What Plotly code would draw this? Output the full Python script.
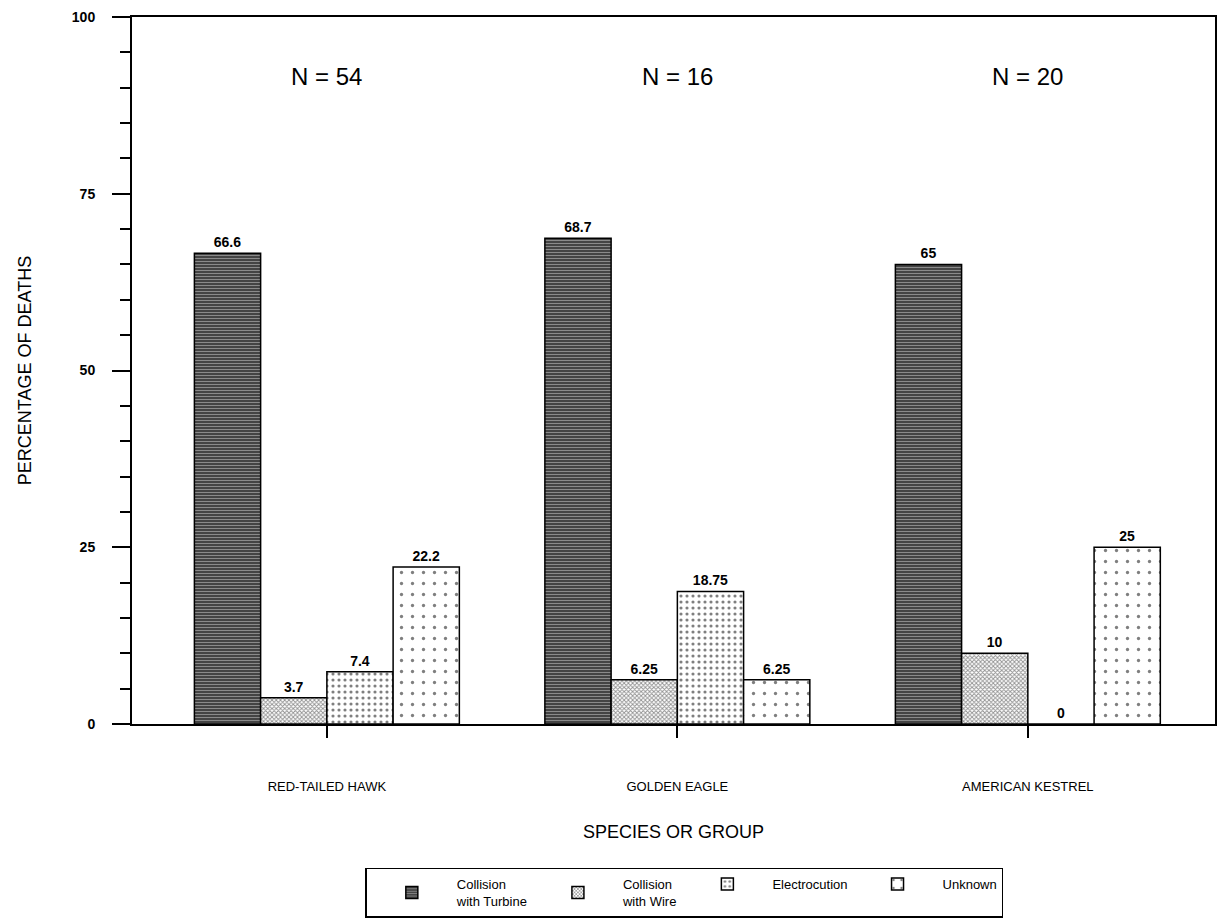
import plotly.graph_objects as go

# Species groups and the share of deaths by cause (percent)
species = ["RED-TAILED HAWK", "GOLDEN EAGLE", "AMERICAN KESTREL"]
sample_sizes = [54, 16, 20]

turbine = [66.6, 68.7, 65.0]
wire = [3.7, 6.25, 10.0]
electrocution = [7.4, 18.75, 0.0]
unknown = [22.2, 6.25, 25.0]

cause_names = ["Collision<br>with Turbine", "Collision<br>with Wire", "Electrocution", "Unknown"]

FONT = "Liberation Sans, Arial, sans-serif"

# Fill style per cause: hatched dark, fine crosshatch, dense dots, sparse dots
patterns = [
    dict(shape="-", bgcolor="#444444", fgcolor="#cfcfcf", size=3, solidity=0.35),
    dict(shape="x", bgcolor="#ffffff", fgcolor="#222222", size=3, solidity=0.5),
    dict(shape=".", bgcolor="#ffffff", fgcolor="#000000", size=6, solidity=0.22),
    dict(shape=".", bgcolor="#ffffff", fgcolor="#000000", size=11, solidity=0.07),
]

series = [turbine, wire, electrocution, unknown]

fig = go.Figure()
for name, vals, pat in zip(cause_names, series, patterns):
    fig.add_trace(go.Bar(
        x=list(range(len(species))),
        y=vals,
        name=name,
        text=[f"{v:g}" for v in vals],
        textposition="outside",
        textfont=dict(family=FONT, size=14, color="black", weight="bold"),
        cliponaxis=False,
        marker=dict(color=pat["bgcolor"], line=dict(color="black", width=1.5),
                    pattern=pat),
    ))

# Sample size above each species group
for i, n in enumerate(sample_sizes):
    fig.add_annotation(x=i, y=91.6, text=f"N = {n}", showarrow=False,
                       font=dict(family=FONT, size=24, color="black"))

fig.update_layout(
    width=1220, height=920,
    margin=dict(l=132, r=5, t=17, b=196, autoexpand=False),
    paper_bgcolor="white", plot_bgcolor="white",
    barmode="group", bargap=0.244, bargroupgap=0,
    font=dict(family=FONT, color="black"),
    legend=dict(
        orientation="h", x=0.51, xanchor="center", y=-0.203, yanchor="top",
        bordercolor="black", borderwidth=1.5, valign="middle",
        font=dict(family=FONT, size=13, color="black"),
        traceorder="normal", itemwidth=80,
    ),
    xaxis=dict(
        range=[-0.556, 2.534],
        tickmode="array", tickvals=list(range(len(species))), ticktext=species,
        ticks="outside", ticklen=12, tickwidth=2, tickcolor="black",
        ticklabelstandoff=37,
        tickfont=dict(family=FONT, size=13, color="black"),
        showline=True, linecolor="black", linewidth=2, mirror=True,
        showgrid=False, zeroline=False,
        title=dict(text="SPECIES OR GROUP", standoff=33,
                   font=dict(family=FONT, size=18, color="black")),
    ),
    yaxis=dict(
        range=[0, 100],
        tickmode="array", tickvals=[0, 25, 50, 75, 100],
        ticks="outside", ticklen=18, tickwidth=2, tickcolor="black",
        ticklabelstandoff=14,
        tickfont=dict(family=FONT, size=14, color="black", weight="bold"),
        minor=dict(dtick=5, ticks="outside", ticklen=10, tickwidth=1.5,
                   tickcolor="black", showgrid=False),
        showline=True, linecolor="black", linewidth=2, mirror=True,
        showgrid=False, zeroline=False,
        title=dict(text="PERCENTAGE OF DEATHS", standoff=36,
                   font=dict(family=FONT, size=18, color="black")),
    ),
)

fig.write_html("out.html")
